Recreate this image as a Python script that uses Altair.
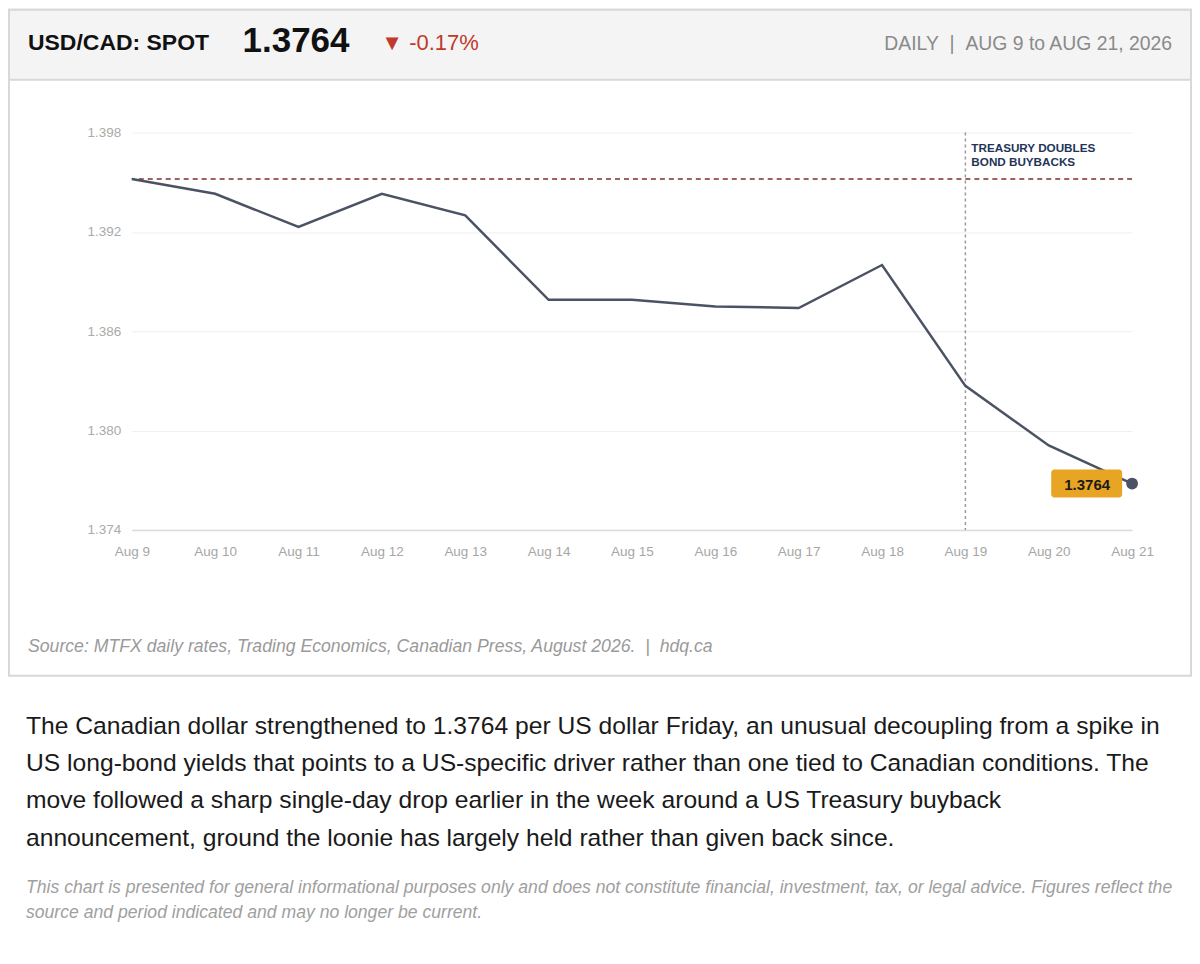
import altair as alt
import pandas as pd

# ---------------- data ----------------
days = ["Aug 9", "Aug 10", "Aug 11", "Aug 12", "Aug 13", "Aug 14", "Aug 15",
        "Aug 16", "Aug 17", "Aug 18", "Aug 19", "Aug 20", "Aug 21"]
rates = [1.3952, 1.3943, 1.3923, 1.3943, 1.3930, 1.3879, 1.3879,
         1.3875, 1.3874, 1.3900, 1.3827, 1.3791, 1.3768]
y_ticks = [1.374, 1.380, 1.386, 1.392, 1.398]
ref_level = [1.3952]
event_day = ["Aug 19"]
event_label = ["TREASURY DOUBLES", "BOND BUYBACKS"]
last_label = "1.3764"

NB = "\u00a0"
header_pair = "USD/CAD: SPOT"
header_spot = "1.3764"
header_change = "▼ -0.17%"
header_period = f"DAILY{NB}{NB}|{NB}{NB}AUG 9 to AUG 21, 2026"
source_text = f"Source: MTFX daily rates, Trading Economics, Canadian Press, August 2026.{NB}{NB}|{NB}{NB}hdq.ca"
paragraph = [
    "The Canadian dollar strengthened to 1.3764 per US dollar Friday, an unusual decoupling from a spike in",
    "US long-bond yields that points to a US-specific driver rather than one tied to Canadian conditions. The",
    "move followed a sharp single-day drop earlier in the week around a US Treasury buyback",
    "announcement, ground the loonie has largely held rather than given back since.",
]
disclaimer = [
    "This chart is presented for general informational purposes only and does not constitute financial, investment, tax, or legal advice. Figures reflect the",
    "source and period indicated and may no longer be current.",
]

FONT = "Liberation Sans"
df = pd.DataFrame({"day": days, "rate": rates})
last = df.tail(1)
one = pd.DataFrame({"a": [0]})

x_scale = alt.Scale(type="point", padding=0)
x_enc = alt.X("day:N", sort=days, scale=x_scale,
              axis=alt.Axis(title=None, labelAngle=0, ticks=False, labelPadding=15,
                            labelFont=FONT, labelFontSize=13.5, labelColor="#a6a6a6",
                            domainColor="#dcdcdc", domainWidth=1.5, grid=False))
y_scale = alt.Scale(domain=[1.374, 1.398], nice=False, zero=False)
y_enc = alt.Y("rate:Q", scale=y_scale,
              axis=alt.Axis(title=None, values=y_ticks, format=".3f", ticks=False,
                            domain=False, labelPadding=11, labelFont=FONT,
                            labelFontSize=13.5, labelColor="#aaaaaa",
                            gridColor="#efefef", gridWidth=1))

# ---------------- page decoration ----------------
box = alt.Chart(one).mark_rect(fillOpacity=0, stroke="#d8d8d8", strokeWidth=2).encode(
    x=alt.value(-123), x2=alt.value(1061), y=alt.value(-123), y2=alt.value(544))
header = alt.Chart(one).mark_rect(fill="#f4f4f4", stroke="#d8d8d8", strokeWidth=2).encode(
    x=alt.value(-123), x2=alt.value(1061), y=alt.value(-123), y2=alt.value(-53))

def txt(text, x, y, size, color, weight="normal", style="normal", align="left", lh=None):
    kw = dict(align=align, baseline="alphabetic", font=FONT, fontSize=size,
              color=color, fontWeight=weight, fontStyle=style)
    if lh:
        kw["lineHeight"] = lh
    return alt.Chart(one).mark_text(**kw).encode(
        x=alt.value(x), y=alt.value(y), text=alt.value(text))

h1 = txt(header_pair, -104, -83, 23, "#111111", weight="bold")
h2 = txt(header_spot, 111, -81, 35, "#111111", weight="bold")
h3 = txt(header_change, 250, -83, 22, "#c0392b")
h4 = txt(header_period, 1042, -83, 19.4, "#8a8a8a", align="right")
src = txt(source_text, -104, 520, 17.7, "#9a9a9a", style="italic")
para = txt(paragraph, -106, 602, 24.7, "#1a1a1a", lh=37.5)
disc = txt(disclaimer, -106, 762, 17.65, "#a0a0a0", style="italic", lh=25)

# ---------------- chart layers ----------------
base = alt.Chart(df).encode(x=x_enc, y=y_enc)
line = base.mark_line(color="#4a5263", strokeWidth=2.5)

ref = alt.Chart(pd.DataFrame({"rate": ref_level})).mark_rule(
    color="#7f2e2e", strokeDash=[5, 4], strokeWidth=1.5).encode(y=alt.Y("rate:Q", scale=y_scale))

ev = pd.DataFrame({"day": event_day})
vrule = alt.Chart(ev).mark_rule(color="#9a9a9a", strokeDash=[3, 3], strokeWidth=1.5).encode(
    x=alt.X("day:N", sort=days, scale=x_scale))
evtext = alt.Chart(ev).mark_text(align="left", baseline="alphabetic", dx=6, font=FONT,
                                 fontSize=11.7, fontWeight="bold", color="#1f3558",
                                 lineHeight=15).encode(
    x=alt.X("day:N", sort=days, scale=x_scale),
    y=alt.value(19), text=alt.value(event_label))

lbl_box = alt.Chart(last).mark_rect(color="#e8a423", cornerRadius=3, xOffset=-81, x2Offset=-10,
                                    yOffset=-14, y2Offset=14).encode(
    x=alt.X("day:N", sort=days, scale=x_scale),
    x2="day:N",
    y=alt.Y("rate:Q", scale=y_scale), y2="rate:Q")
lbl_text = alt.Chart(last).mark_text(dx=-45, dy=1, font=FONT, fontSize=15, fontWeight="bold",
                                     color="#1a1a1a", baseline="middle").encode(
    x=alt.X("day:N", sort=days, scale=x_scale),
    y=alt.Y("rate:Q", scale=y_scale), text=alt.value(last_label))
dot = alt.Chart(last).mark_circle(color="#4a5263", size=140, opacity=1).encode(
    x=alt.X("day:N", sort=days, scale=x_scale),
    y=alt.Y("rate:Q", scale=y_scale))

chart = alt.layer(
    box, header, h1, h2, h3, h4,
    base.mark_line(opacity=0),
    ref, vrule, evtext, line, lbl_box, lbl_text, dot,
    src, para, disc,
).properties(width=1002, height=398, padding=0, background="white").configure_view(stroke=None)

chart.save("out.html", embed_options={"renderer": "svg", "actions": False})
